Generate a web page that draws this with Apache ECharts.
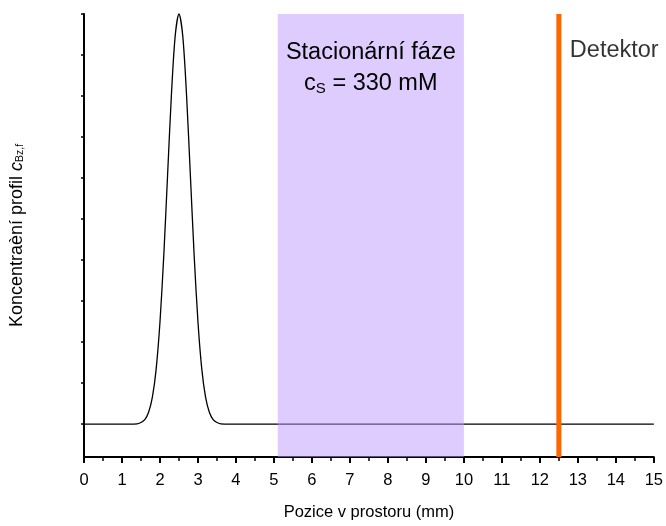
<!DOCTYPE html>
<html>
<head>
<meta charset="utf-8">
<script src="https://cdn.jsdelivr.net/npm/echarts@6/dist/echarts.min.js"></script>
<style>
html,body{margin:0;padding:0;background:#fff;}
#chart{width:666px;height:526px;}
</style>
</head>
<body>
<div id="chart"></div>
<script>
// Position along the column (mm)
const positions = [0, 1.2, 1.4, 1.5, 1.6, 1.7, 1.8, 1.9, 2.0, 2.1, 2.2, 2.3, 2.4, 2.5, 2.6, 2.7, 2.8, 2.9, 3.0, 3.1, 3.2, 3.3, 3.4, 3.5, 3.6, 3.8, 15];
// Concentration profile (normalised)
const profile = [0, 0, 0.001, 0.004, 0.011, 0.029, 0.066, 0.135, 0.249, 0.411, 0.607, 0.801, 0.946, 1, 0.946, 0.801, 0.607, 0.411, 0.249, 0.135, 0.066, 0.029, 0.011, 0.004, 0.001, 0, 0];
// Stationary phase region (mm)
const stationaryPhase = [5.1, 10];
// Detector position (mm)
const detectorPos = 12.5;
// Axis settings
const xTicks = [0, 1, 2, 3, 4, 5, 6, 7, 8, 9, 10, 11, 12, 13, 14, 15];
const yTickValues = [0, 0.1, 0.2, 0.3, 0.4, 0.5, 0.6, 0.7, 0.8, 0.9, 1.0];
const yRange = [-0.08, 1.0];

const font = '"Liberation Sans", Arial, sans-serif';
const curve = positions.map((x, i) => [x, profile[i]]);

const chart = echarts.init(document.getElementById('chart'), null, {renderer: 'canvas'});
chart.setOption({
  animation: false,
  backgroundColor: '#fff',
  textStyle: {fontFamily: font},
  grid: {left: 84, right: 12, top: 14, bottom: 63, containLabel: false},
  xAxis: {
    type: 'value',
    min: xTicks[0], max: xTicks[xTicks.length - 1], interval: 1,
    name: 'Pozice v prostoru (mm)',
    nameLocation: 'middle', nameGap: 47,
    nameTextStyle: {color: '#000', fontSize: 16.5, fontFamily: font},
    axisLine: {onZero: false, lineStyle: {color: '#000', width: 2}},
    axisTick: {length: 6, lineStyle: {color: '#000', width: 2}},
    minorTick: {show: true, splitNumber: 2, length: 4, lineStyle: {color: '#000', width: 1.5}},
    axisLabel: {color: '#000', fontSize: 16.5, margin: 15, fontFamily: font},
    splitLine: {show: false}
  },
  yAxis: {
    type: 'value',
    min: yRange[0], max: yRange[1],
    name: '{a|Koncentraèní profil }{i|c}{s|Bz,f}',
    nameLocation: 'middle', nameRotate: 90, nameGap: 58,
    nameTextStyle: {
      color: '#000', fontFamily: font,
      rich: {
        a: {fontSize: 18, color: '#000', fontFamily: font, verticalAlign: 'bottom', lineHeight: 21},
        i: {fontSize: 18, color: '#000', fontStyle: 'italic', fontFamily: font, verticalAlign: 'bottom', lineHeight: 21},
        s: {fontSize: 10.5, color: '#000', fontFamily: font, verticalAlign: 'bottom', lineHeight: 3}
      }
    },
    axisLine: {show: true, onZero: false, lineStyle: {color: '#000', width: 2}},
    axisTick: {show: true, length: 3, customValues: yTickValues, lineStyle: {color: '#000', width: 1.5}},
    axisLabel: {show: false},
    splitLine: {show: false}
  },
  series: [
    {
      type: 'line',
      data: curve,
      showSymbol: false,
      smooth: 0.3,
      lineStyle: {color: '#000', width: 1.3},
      z: 2
    },
    {
      type: 'line',
      data: [],
      z: 5,
      markArea: {
        silent: true,
        z: 5,
        itemStyle: {color: 'rgba(192,153,255,0.5)'},
        label: {
          show: true, position: 'insideTop', distance: 24,
          formatter: '{t|Stacionární fáze}\n{b|c}{sub|S}{b| = 330 mM}',
          rich: {
            t: {fontSize: 23.5, color: '#000', fontFamily: font, lineHeight: 29, align: 'center'},
            b: {fontSize: 23.5, color: '#000', fontFamily: font, lineHeight: 29, verticalAlign: 'bottom'},
            sub: {fontSize: 15, color: '#000', fontFamily: font, lineHeight: 6, verticalAlign: 'bottom'}
          }
        },
        data: [[{xAxis: stationaryPhase[0]}, {xAxis: stationaryPhase[1]}]]
      }
    },
    {
      type: 'line',
      data: [[detectorPos, yRange[0]], [detectorPos, yRange[1]]],
      showSymbol: false,
      clip: false,
      lineStyle: {color: '#FF6600', width: 5},
      z: 6
    },
    {
      type: 'scatter',
      data: [[detectorPos, 0.91]],
      symbolSize: 0,
      z: 7,
      label: {show: true, position: 'right', distance: 11, formatter: 'Detektor', color: '#000', fontSize: 23.5, fontFamily: font}
    }
  ]
});
</script>
</body>
</html>
